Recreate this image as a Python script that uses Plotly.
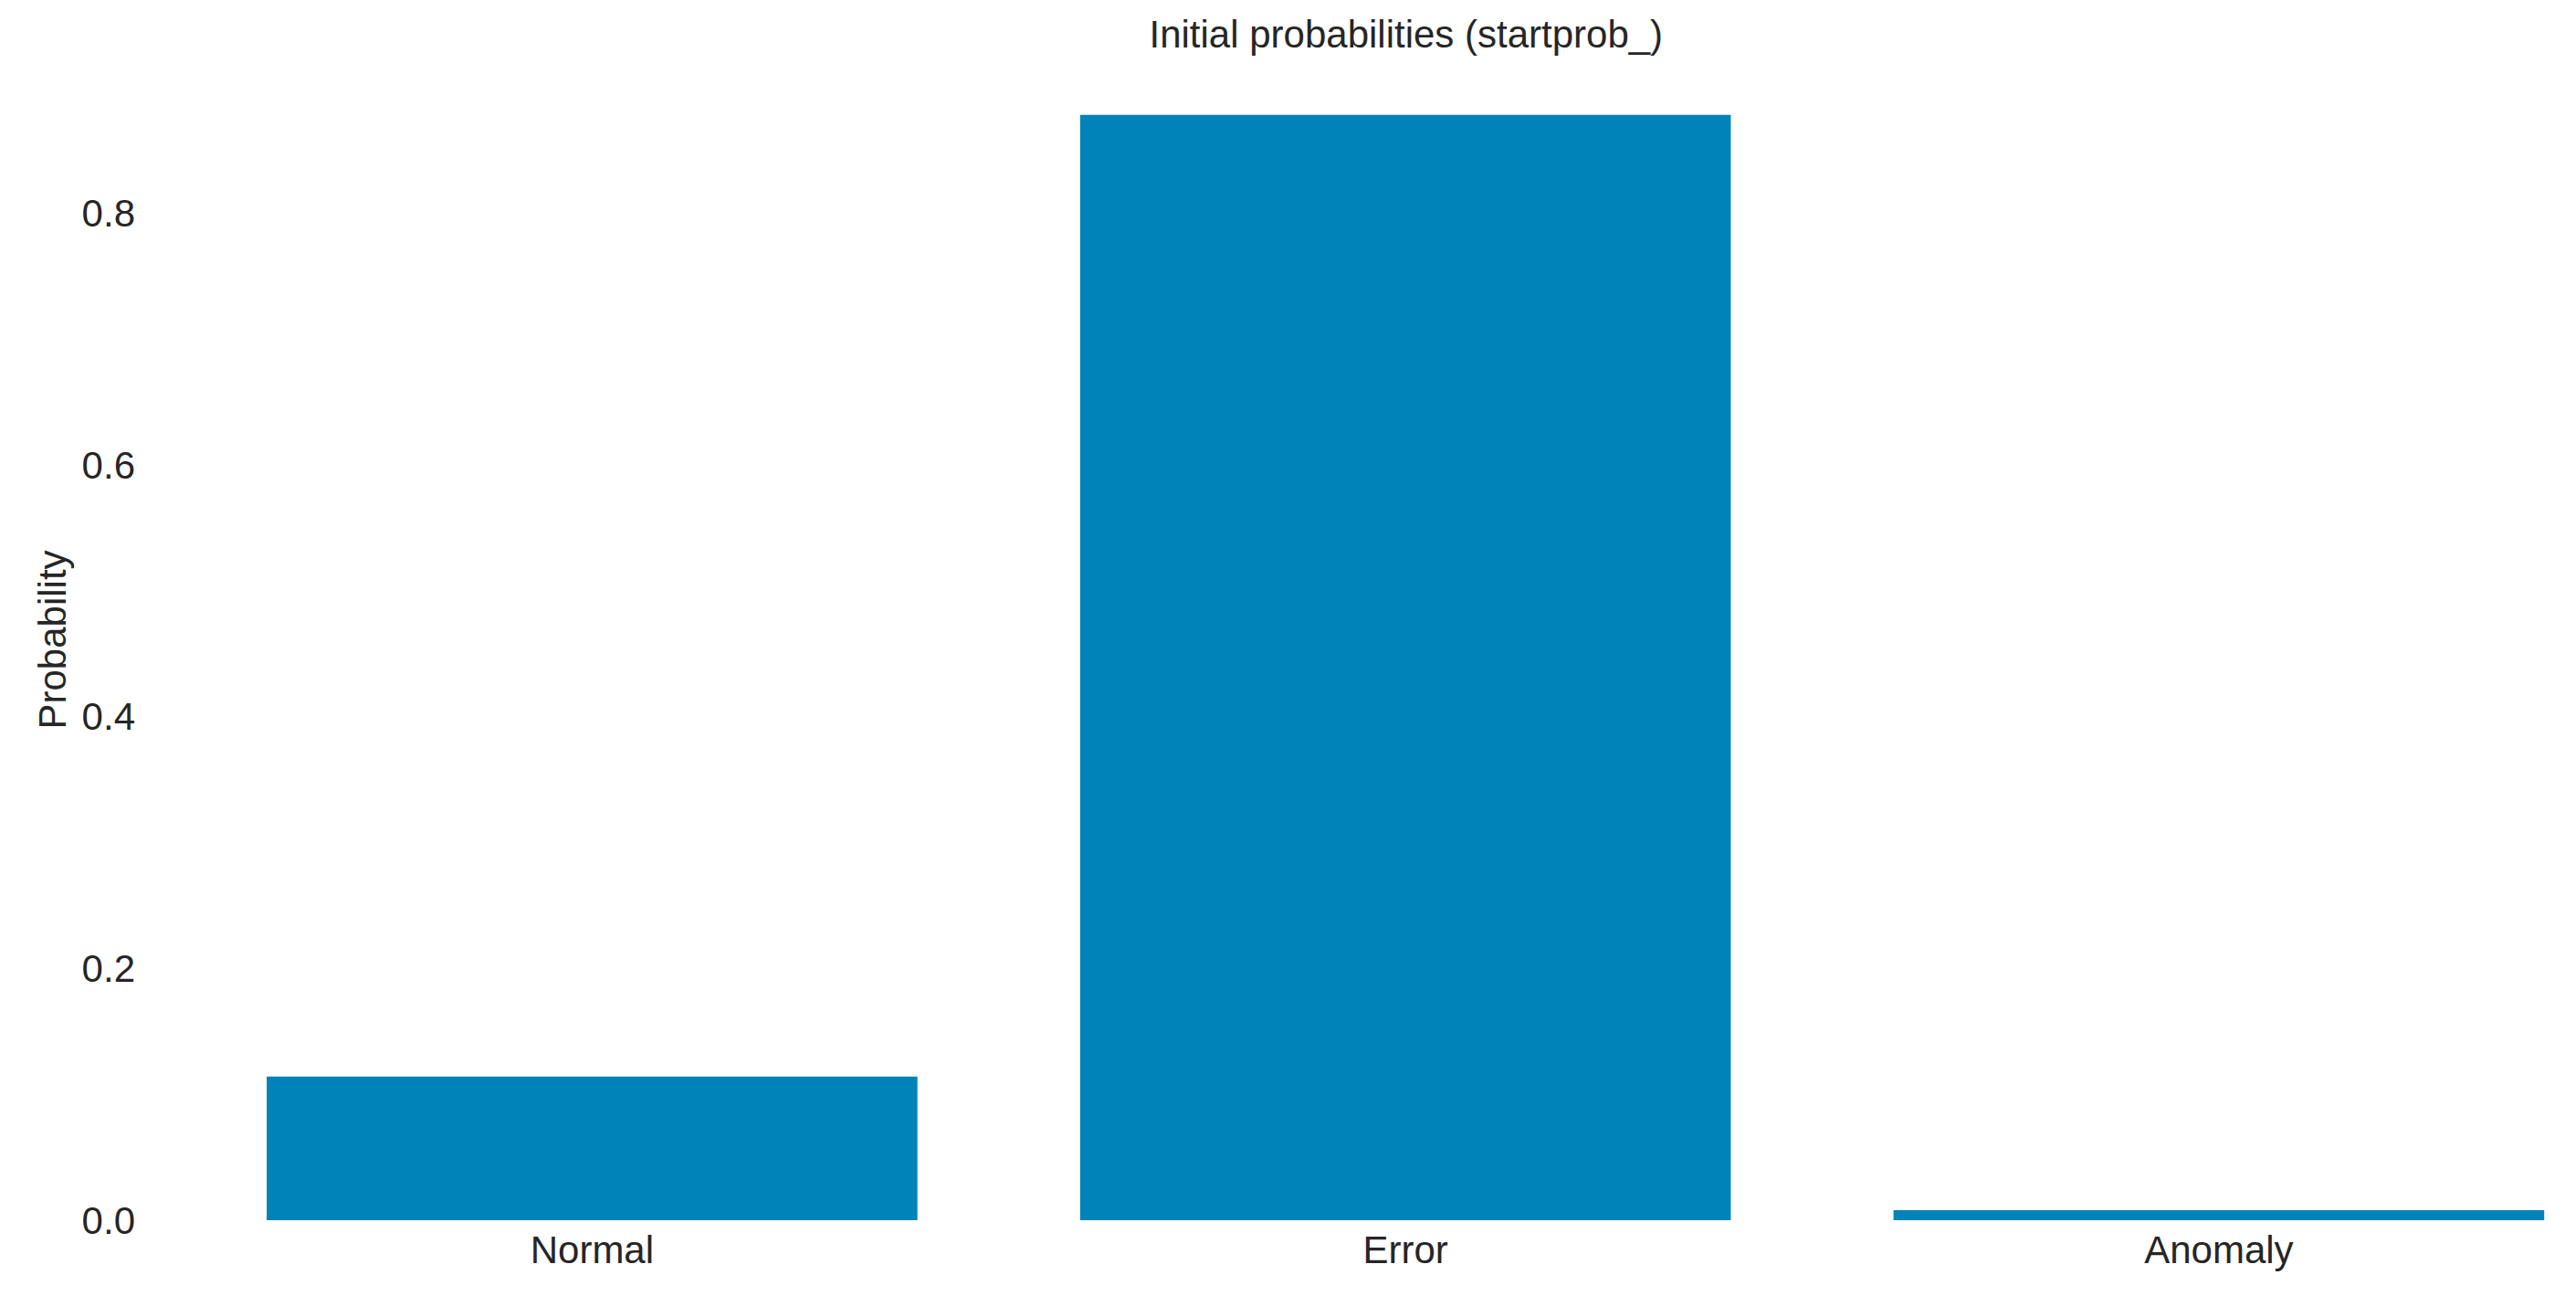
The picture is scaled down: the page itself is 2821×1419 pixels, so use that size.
import plotly.graph_objects as go

# state labels and their initial probabilities
states = ["Normal", "Error", "Anomaly"]
startprob = [0.114, 0.878, 0.008]

y_ticks = [0.0, 0.2, 0.4, 0.6, 0.8]
y_tick_labels = ["0.0", "0.2", "0.4", "0.6", "0.8"]

font_family = "Liberation Sans, Arial, sans-serif"
text_color = "#262626"

fig = go.Figure(
    go.Bar(
        x=states,
        y=startprob,
        width=0.8,
        marker=dict(color="#0083b8", line=dict(width=0)),
    )
)

fig.update_layout(
    width=2821,
    height=1419,
    paper_bgcolor="white",
    plot_bgcolor="white",
    margin=dict(l=195, r=25, t=57, b=91),
    font=dict(family=font_family, size=42, color=text_color),
    title=dict(
        text="Initial probabilities (startprob_)",
        x=0.543,
        xanchor="center",
        y=1 - 29 / 1419,
        yanchor="middle",
        font=dict(size=42, color=text_color),
    ),
    showlegend=False,
    bargap=0.2,
)

fig.update_xaxes(
    range=[-0.5, 2.42],
    showgrid=False,
    showline=False,
    zeroline=False,
    ticks="",
    ticklabelstandoff=4,
    tickfont=dict(size=42, color=text_color),
)

fig.update_yaxes(
    range=[0, 0.922],
    tickvals=y_ticks,
    ticktext=y_tick_labels,
    showgrid=False,
    showline=False,
    zeroline=False,
    ticks="",
    ticklabelstandoff=54,
    tickfont=dict(size=42, color=text_color),
    title=dict(text="Probability", font=dict(size=42, color=text_color), standoff=3),
)

fig.write_html("out.html")
